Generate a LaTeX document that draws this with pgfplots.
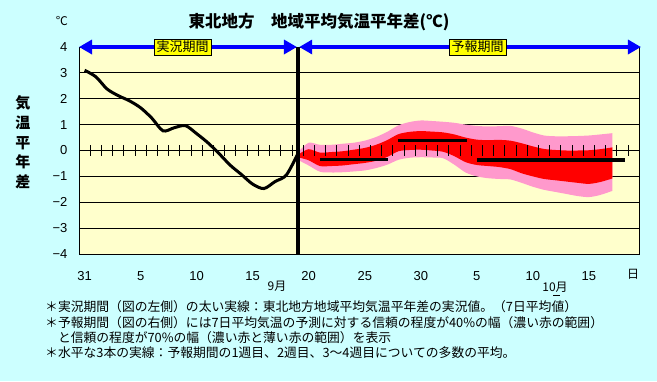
\documentclass[border=0pt]{standalone}
\usepackage{fontspec}
\setmainfont{Noto Sans CJK JP}
\newfontfamily\lat{Liberation Sans}
\usepackage{xcolor}
\usepackage{pgfplots}
\pgfplotsset{compat=1.18}
\usepgfplotslibrary{fillbetween}
\usetikzlibrary{arrows.meta}
\definecolor{bgc}{HTML}{CCFFFF}
\definecolor{plotbg}{HTML}{FFFFCC}
\definecolor{pinkc}{HTML}{FF99CC}
\definecolor{redc}{HTML}{FF0000}
\definecolor{bluec}{HTML}{0000FF}
\definecolor{yelc}{HTML}{FFFF00}
\pagecolor{bgc}
\begin{document}
\begin{tikzpicture}[x=1pt,y=1pt]
\path (0,0) rectangle (657,381);
\begin{axis}[
  at={(79pt,127pt)}, anchor=south west,
  scale only axis, width=560.3pt, height=207pt,
  xmin=-0.5, xmax=49.5, ymin=-4, ymax=4,
  clip=false,
  axis background/.style={fill=plotbg},
  xtick={0,5,...,45},
  xticklabels={31,5,10,15,20,25,30,5,10,15},
  ytick={-4,-3,-2,-1,0,1,2,3,4},
  yticklabels={−4,−3,−2,−1,0,1,2,3,4},
  ymajorgrids,
  grid style={black, line width=0.8pt},
  major tick length=0pt,
  tick label style={font=\lat\fontsize{13}{13}\selectfont},
  x tick label style={anchor=base, yshift=-26pt},
  y tick label style={anchor=east, xshift=-8pt},
  axis line style={black, line width=1pt},
]
\pgfplotsinvokeforeach{0,...,49}{
  \draw[black, line width=0.8pt] (axis cs:#1-0.5,-0.21) -- (axis cs:#1-0.5,0.21);
}
% 70% band
\addplot[draw=none, smooth, name path=pt] coordinates {
(19.2,0.0) (20,0.30) (21,0.22) (22,0.22) (23,0.26) (24,0.30) (25,0.38) (26,0.52) (27,0.72) (28,0.97) (29,1.10) (30,1.16) (31,1.14) (32,1.11) (33,1.07) (34,1.00) (35,0.95) (36,0.93) (37,0.94) (38,0.95) (39,0.85) (40,0.70) (41,0.58) (42,0.55) (43,0.55) (44,0.56) (45,0.58) (46,0.62) (47.1,0.67)};
\addplot[draw=none, smooth, name path=pb] coordinates {
(19.2,-0.40) (20,-0.58) (21,-0.82) (22,-0.85) (23,-0.84) (24,-0.81) (25,-0.77) (26,-0.68) (27,-0.55) (28,-0.36) (29,-0.28) (30,-0.26) (31,-0.27) (32,-0.30) (33,-0.55) (34,-0.85) (35,-1.00) (36,-1.07) (37,-1.10) (38,-1.12) (39,-1.25) (40,-1.40) (41,-1.52) (42,-1.60) (43,-1.68) (44,-1.76) (45,-1.80) (46,-1.72) (47.1,-1.56)};
\addplot[pinkc] fill between[of=pt and pb];
% 40% band
\addplot[draw=none, smooth, name path=rt] coordinates {
(19.2,-0.12) (20,0.05) (21,-0.08) (22,-0.06) (23,-0.03) (24,0.03) (25,0.10) (26,0.22) (27,0.40) (28,0.63) (29,0.72) (30,0.75) (31,0.73) (32,0.70) (33,0.62) (34,0.50) (35,0.42) (36,0.40) (37,0.41) (38,0.38) (39,0.28) (40,0.16) (41,0.06) (42,0.02) (43,0.0) (44,0.0) (45,0.01) (46,0.05) (47.1,0.12)};
\addplot[draw=none, smooth, name path=rb] coordinates {
(19.2,-0.28) (20,-0.38) (21,-0.60) (22,-0.60) (23,-0.58) (24,-0.53) (25,-0.48) (26,-0.40) (27,-0.25) (28,-0.03) (29,0.02) (30,0.03) (31,0.0) (32,-0.05) (33,-0.22) (34,-0.45) (35,-0.56) (36,-0.60) (37,-0.64) (38,-0.72) (39,-0.88) (40,-1.00) (41,-1.10) (42,-1.15) (43,-1.20) (44,-1.25) (45,-1.29) (46,-1.22) (47.1,-1.08)};
\addplot[redc] fill between[of=rt and rb];
% observed 7-day mean
\addplot[black, line width=3pt, smooth] coordinates {
(0,3.1) (1,2.85) (2,2.38) (3,2.12) (4,1.92) (5,1.65) (6,1.25) (7,0.76) (8,0.88) (9,0.96) (10,0.65) (11,0.3) (12,-0.12) (13,-0.57) (14,-0.93) (15,-1.3) (16,-1.47) (17,-1.2) (18,-0.95) (19,-0.15)};
% weekly means
\addplot[black, line width=3.5pt] coordinates {(21,-0.35) (27.1,-0.35)};
\addplot[black, line width=3.5pt] coordinates {(28,0.38) (34.1,0.38)};
\addplot[black, line width=3.5pt] coordinates {(35,-0.36) (48.2,-0.36)};
% boundary line
\draw[black, line width=4pt] (axis cs:19,-4) -- (axis cs:19,4);
% period arrows
\draw[bluec, line width=4pt, {Triangle[length=13pt,width=14pt]}-{Triangle[length=13pt,width=14pt]}]
  (axis cs:-0.5,4) -- (axis cs:18.95,4);
\draw[bluec, line width=4pt, {Triangle[length=13pt,width=14pt]}-{Triangle[length=13pt,width=14pt]}]
  (axis cs:19.15,4) -- (axis cs:49.65,4);
\node[fill=yelc, draw=black, line width=0.8pt, inner xsep=2.5pt, inner ysep=0pt, minimum height=16pt,
  font=\fontsize{13}{13}\selectfont] at (axis cs:8.74,4) {実況期間};
\node[fill=yelc, draw=black, line width=0.8pt, inner xsep=2.5pt, inner ysep=0pt, minimum height=16pt,
  font=\fontsize{13}{13}\selectfont] at (axis cs:35.08,4) {予報期間};
\end{axis}
% titles and labels
\node[font=\fontsize{16.5}{16.5}\selectfont\bfseries] at (319,359) {東北地方　地域平均気温平年差(℃)};
\node[font=\fontsize{12}{12}\selectfont] at (62,360) {℃};
\foreach \c/\yy in {気/278,温/258,平/238,年/219,差/199}{
  \node[font=\fontsize{15}{15}\selectfont\bfseries] at (23,\yy) {\c};
}
\node[font=\fontsize{12}{12}\selectfont] at (277,95) {9月};
\node[font=\fontsize{12}{12}\selectfont] at (555,94) {10月};
\draw[black, line width=0.8pt] (553,86) -- (560,86);
\node[font=\fontsize{12}{12}\selectfont] at (633,107) {日};
% footnotes
\begin{scope}[every node/.style={anchor=west, inner sep=0pt, font=\fontsize{12.8}{12.8}\selectfont}]
\node at (45,74) {＊実況期間（図の左側）の太い実線：東北地方地域平均気温平年差の実況値。（7日平均値）};
\node at (45,58) {＊予報期間（図の右側）には7日平均気温の予測に対する信頼の程度が40\%の幅（濃い赤の範囲）};
\node at (45,43) {　と信頼の程度が70\%の幅（濃い赤と薄い赤の範囲）を表示};
\node at (45,28) {＊水平な3本の実線：予報期間の1週目、2週目、3～4週目についての多数の平均。};
\end{scope}
\end{tikzpicture}
\end{document}
